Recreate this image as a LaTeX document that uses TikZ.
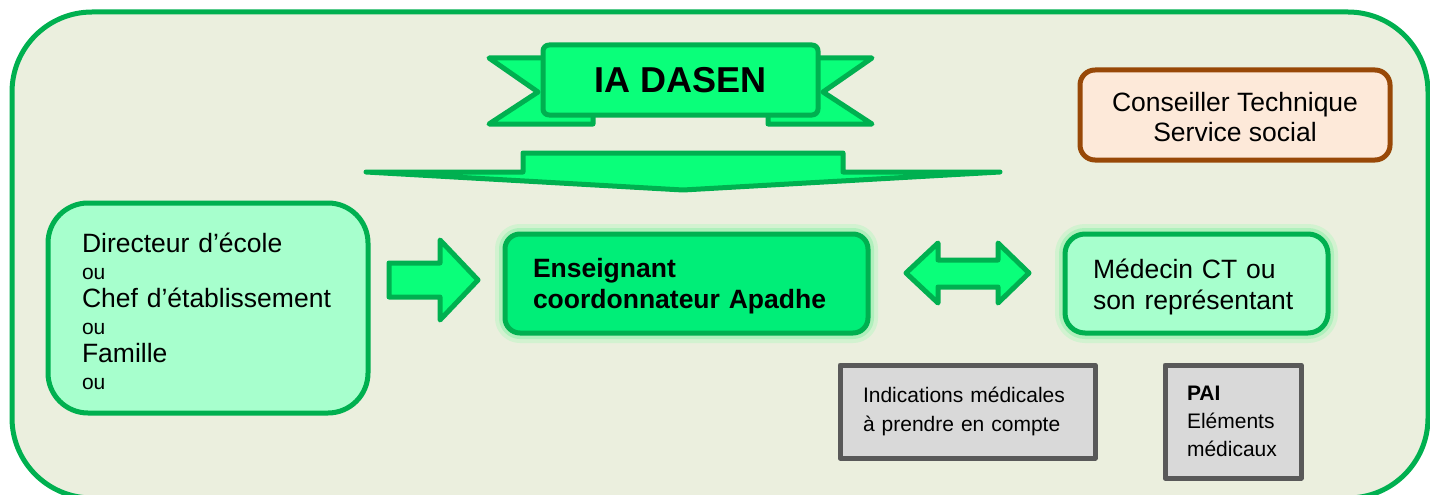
\documentclass[tikz,border=0pt]{standalone}
\usepackage{fontspec}
\setmainfont{Liberation Sans}
\usetikzlibrary{positioning}

\definecolor{framegreen}{RGB}{0,176,80}
\definecolor{framefill}{RGB}{235,239,222}
\definecolor{mint}{RGB}{167,255,205}
\definecolor{brightgreen}{RGB}{10,255,122}
\definecolor{ensgreen}{RGB}{0,238,120}
\definecolor{glowA}{RGB}{210,242,208}
\definecolor{glowB}{RGB}{175,240,188}
\definecolor{greyfill}{RGB}{217,217,217}
\definecolor{greyline}{RGB}{89,89,89}
\definecolor{peach}{RGB}{253,233,217}
\definecolor{brownline}{RGB}{152,72,7}

\begin{document}
\begin{tikzpicture}[x=1pt,y=-1pt,line join=round,
    every node/.style={shape=rectangle,outer sep=0pt,font=\fontsize{26.5}{27.5}\selectfont},
    greenbox/.style={draw=framegreen,fill=mint,line width=5pt,align=left,inner ysep=0pt},
    glow/.style={preaction={draw=glowA,line width=20pt},preaction={draw=glowB,line width=12pt}},
    greybox/.style={draw=greyline,fill=greyfill,line width=5pt,align=left,inner ysep=0pt,font=\fontsize{21}{29}\selectfont},
    banner/.style={draw=framegreen,fill=brightgreen,line width=5pt},
    blockarrow/.style={draw=framegreen,fill=brightgreen,line width=5pt},]
    \useasboundingbox (0,0) rectangle (1430,495);
	% frame
    \draw[draw=framegreen,fill=framefill,line width=5pt,rounded corners=80pt] (12,12) rectangle (1428,498);

	% banner
    \draw[banner] (489,58) -- (560,58) -- (560,112) -- (593,112) -- (593,124) -- (489,124) -- (538,92) -- cycle;
    \draw[banner] (872,58) -- (801,58) -- (801,112) -- (768,112) -- (768,124) -- (872,124) -- (823,92) -- cycle;
    \draw[banner,rounded corners=6pt] (543,45) rectangle (818,115);
    \node (IA) [inner sep=0pt,font=\fontsize{36}{36}\selectfont\bfseries] at (680.5,80) {IA DASEN};
    \draw[blockarrow] (366,172) -- (523,172) -- (523,153) -- (843,153) -- (843,172) -- (1000,172) -- (683,190) -- cycle;

	% create boxes
    \node (CT) [draw=brownline,fill=peach,line width=5pt,rounded corners=15pt,align=center,inner ysep=0pt,
        minimum width=310,minimum height=90,font=\fontsize{26.5}{30}\selectfont] at (1235,115)
        {\rule{0pt}{24pt}Conseiller Technique\\Service social};
    \node (Dir) [greenbox,rounded corners=40pt,text width=252,inner xsep=34,minimum height=210] at (208,308)
        {\rule{0pt}{26pt}Directeur d’école\\{\fontsize{21}{21}\selectfont ou}\\Chef d’établissement\\{\fontsize{21}{21}\selectfont ou}\\Famille\\{\fontsize{21}{21}\selectfont ou}};
    \node (Ens) [greenbox,glow,fill=ensgreen,rounded corners=15pt,text width=307,inner xsep=28,minimum height=99,
        font=\fontsize{26.5}{31}\selectfont\bfseries] at (686.5,283.5)
        {\rule{0pt}{23.5pt}Enseignant\\coordonnateur Apadhe};
    \node (Med) [greenbox,glow,rounded corners=20pt,text width=207,inner xsep=28,minimum height=99,
        font=\fontsize{26.5}{31}\selectfont,right=197pt of Ens]
        {\rule{0pt}{25.5pt}Médecin CT ou\\son représentant};
    \node (Ind) [greybox,text width=209,inner xsep=23,minimum height=93] at (967.5,411.5)
        {Indications médicales\\à prendre en compte};
    \node (PAI) [greybox,text width=92,inner xsep=22,minimum height=113,font=\fontsize{21}{28}\selectfont,
        right=70pt of Ind,yshift=-10pt]
        {\textbf{PAI}\\Eléments\\médicaux};

	% arrows between boxes
    \draw[blockarrow] (389,263) -- (440,263) -- (440,240) -- (478,280) -- (440,320) -- (440,297) -- (389,297) -- cycle;
    \draw[blockarrow] (906,273) -- (938,243) -- (938,260) -- (998,260) -- (998,243) -- (1029,273)
        -- (998,303) -- (998,287) -- (938,287) -- (938,303) -- cycle;
\end{tikzpicture}
\end{document}
